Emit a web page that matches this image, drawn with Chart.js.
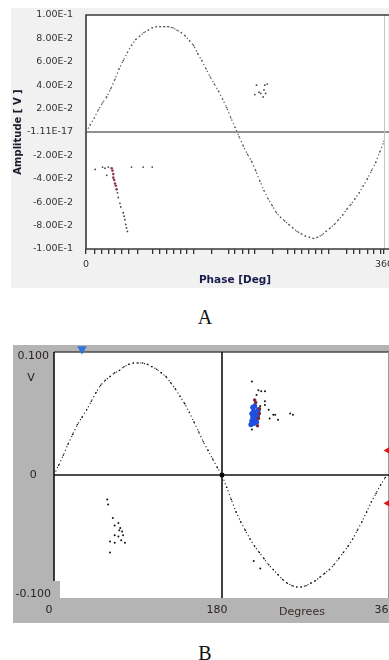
<!DOCTYPE html>
<html><head><meta charset="utf-8">
<script src="https://cdn.jsdelivr.net/npm/chart.js@4.4.1/dist/chart.umd.min.js"></script>
<style>
html,body{margin:0;padding:0;background:#fff;width:389px;height:660px;overflow:hidden;position:relative}
#wa{position:absolute;left:0;top:0;width:389px;height:290px}
#wb{position:absolute;left:0;top:340px;width:400px;height:283px}
.cap{position:absolute;left:185px;width:40px;text-align:center;font-family:"Liberation Serif","Times New Roman",serif;font-size:20px;line-height:20px;color:#111}
</style></head>
<body>
<div id="wa"><canvas id="ca"></canvas></div>
<div class="cap" style="top:307px">A</div>
<div id="wb"><canvas id="cb"></canvas></div>
<div class="cap" style="top:643px">B</div>
<script>
// ---------- Panel A data ----------
const phaseA = [0,5,10,15,20,25,30,35,40,45,50,55,60,65,70,75,80,85,90,95,100,105,110,115,120,125,130,135,140,145,150,155,160,165,170,175,180,185,190,195,200,205,210,215,220,225,230,235,240,245,250,255,260,265,270,275,280,285,290,295,300,305,310,315,320,325,330,335,340,345,350,355,360];
const ampA = [0.000,0.006,0.012,0.019,0.025,0.030,0.037,0.045,0.054,0.061,0.068,0.074,0.079,0.082,0.085,0.087,0.089,0.090,0.090,0.090,0.090,0.089,0.087,0.085,0.082,0.078,0.074,0.067,0.061,0.054,0.047,0.041,0.035,0.028,0.021,0.012,0.004,-0.004,-0.012,-0.019,-0.025,-0.033,-0.042,-0.050,-0.057,-0.063,-0.069,-0.073,-0.076,-0.079,-0.082,-0.085,-0.087,-0.089,-0.090,-0.091,-0.090,-0.088,-0.085,-0.082,-0.079,-0.075,-0.071,-0.066,-0.062,-0.057,-0.052,-0.046,-0.040,-0.033,-0.026,-0.017,-0.008];
const redClusterAX = [31,32,33,33,34,35,36,37];
const redClusterAY = [-0.031,-0.033,-0.036,-0.039,-0.041,-0.044,-0.046,-0.049];
const darkClusterAX = [38,39,41,42,45,46,47,48,49,50,11,20,23,25,27,55,69,80];
const darkClusterAY = [-0.052,-0.056,-0.061,-0.064,-0.069,-0.072,-0.075,-0.079,-0.082,-0.085,-0.032,-0.030,-0.031,-0.037,-0.030,-0.030,-0.030,-0.030];
const vClusterAX = [204,206,209,211,214,215,216,219,217];
const vClusterAY = [0.032,0.040,0.034,0.033,0.030,0.036,0.040,0.041,0.033];
const yTickValsA = [0.1,0.08,0.06,0.04,0.02,0,-0.02,-0.04,-0.06,-0.08,-0.1];
const yTickLabelsA = ["1.00E-1","8.00E-2","6.00E-2","4.00E-2","2.00E-2","-1.11E-17","-2.00E-2","-4.00E-2","-6.00E-2","-8.00E-2","-1.00E-1"];
const xTickValsA = [0,11,19,27,35,43,51,62,81,89,98,106,114,122,130,152,172,180,189,196,204,225,244,252,261,269,277,285,293,315,323,331,340,347,356,360];
const xLabelValsA = [0,360];
const xLabelTextsA = ["0","360"];

// ---------- Panel B data ----------
const phaseB = [0,5,10,15,20,25,30,35,40,45,50,55,60,65,70,75,80,85,90,95,100,105,110,115,120,125,130,135,140,145,150,155,160,165,170,175,180,185,190,195,200,205,210,215,220,225,230,235,240,245,250,255,260,265,270,275,280,285,290,295,300,305,310,315,320,325,330,335,340,345,350,355];
const ampB = [0.000,0.008,0.016,0.025,0.033,0.041,0.047,0.053,0.060,0.067,0.073,0.077,0.080,0.083,0.085,0.088,0.090,0.091,0.091,0.091,0.090,0.088,0.086,0.083,0.080,0.075,0.070,0.064,0.058,0.051,0.043,0.035,0.027,0.020,0.013,0.006,0.000,-0.010,-0.020,-0.030,-0.038,-0.045,-0.052,-0.058,-0.063,-0.068,-0.073,-0.077,-0.081,-0.085,-0.088,-0.090,-0.091,-0.091,-0.090,-0.088,-0.086,-0.083,-0.080,-0.077,-0.073,-0.068,-0.063,-0.058,-0.052,-0.045,-0.038,-0.030,-0.022,-0.015,-0.008,-0.002];
const blueBlobBX = [211,212,212,213,213,214,214,215,215,216,217,218,219];
const blueBlobBY = [0.041,0.044,0.050,0.047,0.055,0.042,0.052,0.046,0.056,0.050,0.043,0.048,0.053];
const redBlobBX = [215,216,219,220,220,218];
const redBlobBY = [0.061,0.059,0.046,0.050,0.054,0.040];
const scatterBX = [212,219,222,226,217,221,226,230,235,231,240,237,253,256,226,212,57,58,63,65,69,71,65,69,74,60,65,76,60,73,70,72,214,221];
const scatterBY = [0.076,0.069,0.068,0.068,0.065,0.056,0.057,0.053,0.049,0.046,0.045,0.049,0.050,0.049,0.060,0.037,-0.020,-0.024,-0.035,-0.041,-0.039,-0.043,-0.049,-0.050,-0.049,-0.054,-0.055,-0.055,-0.063,-0.046,-0.045,-0.053,-0.070,-0.076];
const cursorTopBX = [30];
const cursorTopBY = [0.1025];
const cursorRightBX = [360,360];
const cursorRightBY = [0.020,-0.023];
const crossBX = [180];
const crossBY = [0];
const yTickValsB = [0.1,0,-0.1];
const yTickLabelsB = ["0.100","0","-0.100"];
const xTickValsB = [0,180,360];
const xTickLabelsB = ["0","180","360"];

const pts = (xs, ys) => xs.map((x, i) => ({x, y: ys[i]}));
const noPad = s => { s.paddingLeft = 0; s.paddingRight = 0; s.paddingTop = 0; s.paddingBottom = 0; };

// ---------- Chart A ----------
const plugA = {
  id: 'panelA',
  beforeDraw(chart) {
    const {ctx, chartArea: a} = chart;
    ctx.save();
    ctx.fillStyle = '#f1f1f1';
    ctx.fillRect(11, 8, 378, 280);
    ctx.fillStyle = '#ffffff';
    ctx.fillRect(a.left, a.top, a.right - a.left + 4, a.bottom - a.top);
    ctx.restore();
  },
  beforeDatasetsDraw(chart) {
    const {ctx, chartArea: a, scales} = chart;
    const y0 = scales.y.getPixelForValue(0);
    ctx.save();
    ctx.lineWidth = 1.6;
    ctx.strokeStyle = '#6e6e6e';
    ctx.beginPath(); ctx.moveTo(a.left, y0); ctx.lineTo(chart.width, y0); ctx.stroke();
    ctx.strokeStyle = '#c4c4c4'; ctx.lineWidth = 1;
    ctx.beginPath(); ctx.moveTo(a.right + 0.5, a.top); ctx.lineTo(a.right + 0.5, a.bottom); ctx.stroke();
    ctx.strokeStyle = '#3a3a3a'; ctx.lineWidth = 1.6;
    ctx.beginPath();
    ctx.moveTo(chart.width, a.top); ctx.lineTo(a.left, a.top); ctx.lineTo(a.left, a.bottom); ctx.lineTo(chart.width, a.bottom);
    ctx.stroke();
    ctx.restore();
  }
};

new Chart(document.getElementById('ca'), {
  type: 'scatter',
  data: {
    datasets: [
      {data: pts(phaseA, ampA), showLine: true, borderColor: '#5a5a5a', borderWidth: 1.2, borderDash: [1.3, 2.6], pointRadius: 0.8, pointBackgroundColor: '#555', pointBorderWidth: 0},
      {data: pts(redClusterAX, redClusterAY), pointRadius: 1.3, pointBackgroundColor: '#8a3c55', pointBorderWidth: 0},
      {data: pts(darkClusterAX, darkClusterAY), pointRadius: 0.9, pointBackgroundColor: '#444', pointBorderWidth: 0},
      {data: pts(vClusterAX, vClusterAY), pointRadius: 0.9, pointBackgroundColor: '#444', pointBorderWidth: 0}
    ]
  },
  options: {
    responsive: true, maintainAspectRatio: false, animation: false,
    layout: {padding: {left: 0, right: 5, top: 15, bottom: 0}},
    plugins: {legend: {display: false}, tooltip: {enabled: false}},
    scales: {
      x: {
        type: 'linear', min: 0, max: 360,
        afterBuildTicks: s => { s.ticks = xTickValsA.map(v => ({value: v})); },
        afterFit: s => { s.height = 41; noPad(s); },
        ticks: {autoSkip: false, maxRotation: 0, padding: 5, color: '#333',
          font: {family: 'DejaVu Sans', size: 9.5},
          callback: v => { const i = xLabelValsA.indexOf(v); return i >= 0 ? xLabelTextsA[i] : ''; }},
        grid: {drawOnChartArea: false, drawTicks: true, tickLength: 5, color: '#333', lineWidth: 1.3},
        border: {display: false},
        title: {display: true, text: 'Phase [Deg]', color: '#1b1b4d', font: {family: 'DejaVu Sans', size: 10.5, weight: 'bold'}, padding: {top: 0, bottom: 3}}
      },
      y: {
        type: 'linear', min: -0.1, max: 0.1,
        afterBuildTicks: s => { s.ticks = yTickValsA.map(v => ({value: v})); },
        afterFit: s => { s.width = 86; noPad(s); },
        ticks: {autoSkip: false, padding: 13, color: '#333',
          font: {family: 'DejaVu Sans', size: 9.5},
          callback: v => { const i = yTickValsA.findIndex(t => Math.abs(t - v) < 1e-9); return i >= 0 ? yTickLabelsA[i] : ''; }},
        grid: {display: false, drawTicks: false},
        border: {display: false},
        title: {display: true, text: 'Amplitude [ V ]', color: '#1b1b2e', font: {family: 'DejaVu Sans', size: 10, weight: 'bold'}, padding: {top: 12, bottom: 0}}
      }
    }
  },
  plugins: [plugA]
});

// ---------- Chart B ----------
const plugB = {
  id: 'panelB',
  beforeDraw(chart) {
    const {ctx, chartArea: a} = chart;
    ctx.save();
    ctx.fillStyle = '#b4b4b4';
    ctx.fillRect(13, 5, chart.width - 13, 278);
    ctx.fillStyle = '#ffffff';
    ctx.fillRect(a.left, a.top, a.right - a.left, a.bottom - a.top);
    ctx.fillStyle = '#b4b4b4';
    ctx.fillRect(13, a.bottom - 17, 47, 17);
    ctx.restore();
  },
  beforeDatasetsDraw(chart) {
    const {ctx, chartArea: a, scales} = chart;
    const y0 = scales.y.getPixelForValue(0);
    const x180 = scales.x.getPixelForValue(180);
    ctx.save();
    ctx.strokeStyle = '#4a4a4a'; ctx.lineWidth = 1.6;
    ctx.beginPath(); ctx.moveTo(a.left, a.top); ctx.lineTo(chart.width, a.top); ctx.stroke();
    ctx.strokeStyle = '#9a9a9a'; ctx.lineWidth = 1;
    ctx.beginPath(); ctx.moveTo(388.5, a.top); ctx.lineTo(388.5, a.bottom); ctx.stroke();
    ctx.strokeStyle = '#111'; ctx.lineWidth = 1.6;
    ctx.beginPath(); ctx.moveTo(a.left, a.top); ctx.lineTo(a.left, a.bottom - 17); ctx.stroke();
    ctx.beginPath(); ctx.moveTo(a.left, y0); ctx.lineTo(a.right, y0); ctx.stroke();
    ctx.beginPath(); ctx.moveTo(x180, a.top); ctx.lineTo(x180, a.bottom); ctx.stroke();
    ctx.restore();
  },
  afterDraw(chart) {
    const {ctx, chartArea: a} = chart;
    ctx.save();
    ctx.fillStyle = '#222';
    ctx.font = '11px "DejaVu Sans"';
    ctx.textAlign = 'center'; ctx.textBaseline = 'middle';
    ctx.fillText('V', 31, 38);
    ctx.fillStyle = '#3a2a2a';
    ctx.fillText('Degrees', 302, a.bottom + 14);
    ctx.restore();
  }
};

new Chart(document.getElementById('cb'), {
  type: 'scatter',
  data: {
    datasets: [
      {data: pts(phaseB, ampB), showLine: true, borderColor: '#222', borderWidth: 1.1, borderDash: [1.2, 2.6], pointRadius: 0.8, pointBackgroundColor: '#111', pointBorderWidth: 0},
      {data: pts(scatterBX, scatterBY), pointRadius: 1, pointBackgroundColor: '#111', pointBorderWidth: 0},
      {data: pts(redBlobBX, redBlobBY), pointRadius: 1.8, pointBackgroundColor: '#7a2a3a', pointBorderWidth: 0},
      {data: pts(blueBlobBX, blueBlobBY), pointRadius: 2.6, pointBackgroundColor: '#1f4fe0', pointBorderWidth: 0},
      {data: pts(crossBX, crossBY), pointStyle: 'rect', pointRadius: 3, pointBackgroundColor: '#000', pointBorderWidth: 0},
      {data: pts(cursorTopBX, cursorTopBY), pointStyle: 'triangle', rotation: 180, pointRadius: 5.5, pointBackgroundColor: '#2f74d8', pointBorderWidth: 0, clip: false},
      {data: pts(cursorRightBX, cursorRightBY), pointStyle: 'triangle', rotation: 270, pointRadius: 6.5, pointBackgroundColor: '#e01616', pointBorderWidth: 0, clip: false}
    ]
  },
  options: {
    responsive: true, maintainAspectRatio: false, animation: false,
    layout: {padding: {left: 13, right: 10, top: 12, bottom: 0}},
    plugins: {legend: {display: false}, tooltip: {enabled: false}},
    scales: {
      x: {
        type: 'linear', min: 0, max: 360,
        afterBuildTicks: s => { s.ticks = xTickValsB.map(v => ({value: v})); },
        afterFit: s => { s.height = 25; noPad(s); },
        ticks: {autoSkip: false, maxRotation: 0, padding: 6, labelOffset: -5, color: '#2a2226',
          font: {family: 'DejaVu Sans', size: 11},
          callback: v => { const i = xTickValsB.indexOf(v); return i >= 0 ? xTickLabelsB[i] : ''; }},
        grid: {display: false, drawTicks: false},
        border: {display: false}
      },
      y: {
        type: 'linear', min: -0.1, max: 0.1,
        afterBuildTicks: s => { s.ticks = yTickValsB.map(v => ({value: v})); },
        afterFit: s => { s.width = 41; noPad(s); },
        ticks: {autoSkip: false, padding: 3, crossAlign: 'center', color: '#2a2226',
          font: {family: 'DejaVu Sans', size: 11, lineHeight: 0.75},
          callback: v => {
            const i = yTickValsB.findIndex(t => Math.abs(t - v) < 1e-9);
            if (i < 0) return '';
            const t = yTickLabelsB[i];
            if (v > 0) return ['', t];
            if (v < 0) return [t, ''];
            return t;
          }},
        grid: {display: false, drawTicks: false},
        border: {display: false}
      }
    }
  },
  plugins: [plugB]
});
</script>
</body></html>
